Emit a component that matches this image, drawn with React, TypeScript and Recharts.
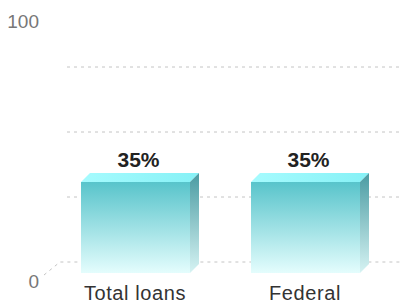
import React from 'react';
import { BarChart, Bar, XAxis, YAxis, CartesianGrid, LabelList } from 'recharts';

// categories and values
const categories = ['Total loans', 'Federal'];
const shares = [35, 35];
const yTicks = [0, 25, 50, 75, 100];
const yLabels = [0, 100];

const data = categories.map((name, i) => ({ name, share: shares[i] }));

const font = '"Liberation Sans", Arial, sans-serif';
const depth = 9; // 3D offset of the boxes
const wallDepth = 11; // back wall offset for the grid

// 3D box: front face, top face, side face
const Box3D = (props: any) => {
  const { x, y, width, height } = props;
  if (!height) return null;
  const d = depth;
  return (
    <g>
      <rect x={x} y={y} width={width} height={height} fill="url(#frontGrad)" />
      <polygon
        points={`${x},${y} ${x + d},${y - d} ${x + width + d},${y - d} ${x + width},${y}`}
        fill="url(#topGrad)"
      />
      <polygon
        points={`${x + width},${y} ${x + width + d},${y - d} ${x + width + d},${y + height - d} ${x + width},${y + height}`}
        fill="url(#sideGrad)"
      />
    </g>
  );
};

// grid drawn on the back wall, the zero line bends to the front corner
const WallLine = (props: any) => {
  const { x1, y1, index } = props;
  const y = y1 - wallDepth;
  if (y < 20) return null;
  const path =
    index === 0
      ? `M${x1 - 6},${y1 + 2} L${x1 + 10},${y} L401,${y}`
      : `M${x1 + 17},${y} L401,${y}`;
  return <path key={`wall-${index}`} d={path} fill="none" stroke="#c4c4c4" strokeWidth={1} strokeDasharray="3 4" />;
};

const YTick = (props: any) => {
  const { x, y, payload } = props;
  if (!yLabels.includes(payload.value)) return null;
  return (
    <text x={x - 11} y={y} dy={15} textAnchor="end" fill="#777" fontSize={19} fontFamily={font}>
      {payload.value}
    </text>
  );
};

const XTick = (props: any) => {
  const { x, y, payload } = props;
  return (
    <text x={x} y={y} dy={27} textAnchor="middle" fill="#333" fontSize={20} letterSpacing={0.6} fontFamily={font}>
      {payload.value}
    </text>
  );
};

const ValueLabel = (props: any) => {
  const { x, y, width, value } = props;
  return (
    <text x={x + width / 2 + 3} y={y - 15} textAnchor="middle" fill="#222" fontSize={21} fontWeight="bold" fontFamily={font}>
      {value}%
    </text>
  );
};

export default function App() {
  return (
    <div style={{ position: 'absolute', left: 0, top: 0, background: '#fff' }}>
      <BarChart width={401} height={307} data={data} margin={{ top: 13, right: 11, left: 0, bottom: 0 }}>
        <defs>
          <linearGradient id="frontGrad" x1="0" y1="0" x2="0" y2="1">
            <stop offset="0%" stopColor="#58c4cb" />
            <stop offset="100%" stopColor="#e4fdfd" />
          </linearGradient>
          <linearGradient id="sideGrad" x1="0" y1="0" x2="0" y2="1">
            <stop offset="0%" stopColor="#4a9ba2" />
            <stop offset="100%" stopColor="#d6f3f3" />
          </linearGradient>
          <linearGradient id="topGrad" x1="0" y1="0" x2="1" y2="0">
            <stop offset="0%" stopColor="#a6fbfe" />
            <stop offset="100%" stopColor="#86f1f6" />
          </linearGradient>
        </defs>
        <CartesianGrid vertical={false} horizontal={WallLine as any} />
        <XAxis
          dataKey="name"
          axisLine={false}
          tickLine={false}
          tickSize={0}
          tickMargin={0}
          height={34}
          tick={<XTick />}
          interval={0}
        />
        <YAxis
          domain={[0, 100]}
          ticks={yTicks}
          axisLine={false}
          tickLine={false}
          tickSize={0}
          tickMargin={0}
          width={50}
          tick={<YTick />}
        />
        <Bar dataKey="share" barSize={109} shape={<Box3D />} isAnimationActive={false}>
          <LabelList dataKey="share" content={<ValueLabel />} />
        </Bar>
      </BarChart>
    </div>
  );
}
